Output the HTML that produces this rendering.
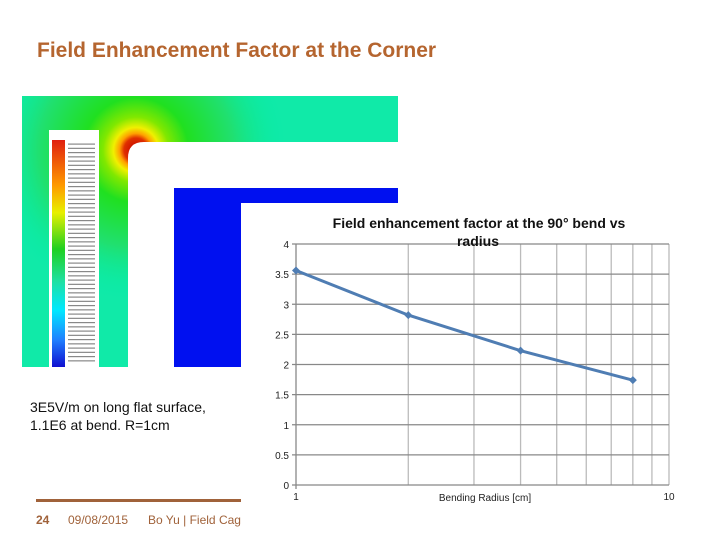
<!DOCTYPE html>
<html><head><meta charset="utf-8"><style>
html,body{margin:0;padding:0;background:#fff;}
svg{display:block;font-family:"Liberation Sans",Arial,sans-serif;}
</style></head><body>
<svg id="s" width="720" height="540" viewBox="0 0 720 540" xmlns="http://www.w3.org/2000/svg">
<defs>
<radialGradient id="hot" cx="136" cy="150" r="150" gradientUnits="userSpaceOnUse">
<stop offset="0" stop-color="#c00000"/><stop offset="0.08" stop-color="#e03000"/><stop offset="0.11" stop-color="#ffa000"/><stop offset="0.15" stop-color="#f0f000"/><stop offset="0.22" stop-color="#80e800"/><stop offset="0.35" stop-color="#20e020"/><stop offset="0.65" stop-color="#20e070"/><stop offset="1" stop-color="#00eeaa" stop-opacity="0"/>
</radialGradient>
<linearGradient id="legbar" x1="0" y1="0" x2="0" y2="1">
<stop offset="0" stop-color="#e02010"/><stop offset="0.2" stop-color="#ff9a00"/><stop offset="0.32" stop-color="#e8f000"/><stop offset="0.48" stop-color="#20d020"/><stop offset="0.62" stop-color="#20e0a0"/><stop offset="0.75" stop-color="#00e8ff"/><stop offset="0.88" stop-color="#2080ff"/><stop offset="1" stop-color="#1010d0"/>
</linearGradient>
</defs>
<text x="37" y="57" font-size="21" font-weight="bold" fill="#b5652f">Field Enhancement Factor at the Corner</text>

<g>
<rect x="22" y="96" width="376" height="271" fill="#10eaa8"/>
<rect x="22" y="96" width="376" height="271" fill="url(#hot)"/>
<path d="M128 367 V158 Q128 142 144 142 H398 V367 Z" fill="#fff"/>
<path d="M174 367 V188 H398 V203 H241 V367 Z" fill="#0010f0"/>
<rect x="49" y="130" width="50" height="237" fill="#fff"/>
<rect x="52" y="140" width="13" height="227" fill="url(#legbar)"/>
<g id="legtxt"></g>
</g>

<g id="chart"></g>

<text x="30" y="412" font-size="14" fill="#111">3E5V/m on long flat surface,</text>
<text x="30" y="430" font-size="14" fill="#111">1.1E6 at bend. R=1cm</text>
<rect x="36" y="499" width="205" height="3" fill="#a0623a"/>
<text x="36" y="524" font-size="12" font-weight="bold" fill="#a0623a">24</text>
<text x="68" y="524" font-size="12" fill="#a0623a">09/08/2015</text>
<text x="148" y="524" font-size="12" fill="#a0623a">Bo Yu | Field Cag</text>
</svg>
<script>
const radii = [1, 2, 4, 8];
const factors = [3.56, 2.82, 2.23, 1.74];
const yTicks = [0, 0.5, 1, 1.5, 2, 2.5, 3, 3.5, 4];
const xTickLabels = ["1", "10"];
const NS = "http://www.w3.org/2000/svg";
const x0 = 296, x1 = 669, yb = 485, yt = 244;
function xs(v){ return x0 + Math.log10(v) * (x1 - x0); }
function ys(v){ return yb - v / 4 * (yb - yt); }
const g = document.getElementById('chart');
function mk(t, a, p){ const e = document.createElementNS(NS, t); for (const k in a) e.setAttribute(k, a[k]); (p||g).appendChild(e); return e; }
const bg = mk('rect', {x:241, y:203, width:440, height:300, fill:'#fff'});


for (let d = 2; d <= 10; d++) {
  const l = mk('line', {x1:xs(d), x2:xs(d), y1:yt, y2:yb, stroke:'#bbb', 'stroke-width':1.3});
  
  
}
yTicks.forEach(v => {
  const l = mk('line', {x1:x0-4, x2:x1, y1:ys(v), y2:ys(v), stroke:'#888', 'stroke-width':1.3});
  
  
  const t = mk('text', {x:289, y:ys(v)+4, 'font-size':10, 'text-anchor':'end', fill:'#222'});
  t.textContent = v;
  
  
});
const ax = mk('line', {x1:x0, x2:x0, y1:yt, y2:yb+4, stroke:'#888', 'stroke-width':1.3});


xTickLabels.forEach(s => {
  const t = mk('text', {x:xs(+s), y:yb+15, 'font-size':10, 'text-anchor':'middle', fill:'#222'});
  t.textContent = s;
  
  
});
const xt = mk('text', {x:485, y:501, 'font-size':10, 'text-anchor':'middle', fill:'#222'});
xt.textContent = 'Bending Radius [cm]';


const t1 = mk('text', {x:479, y:228, 'font-size':14, 'font-weight':'bold', 'text-anchor':'middle', fill:'#111'});
t1.textContent = 'Field enhancement factor at the 90° bend vs';


const t2 = mk('text', {x:478, y:246, 'font-size':14, 'font-weight':'bold', 'text-anchor':'middle', fill:'#111'});
t2.textContent = 'radius';


const pts = radii.map((r,i) => xs(r) + ',' + ys(factors[i])).join(' ');
const pl = mk('polyline', {points:pts, fill:'none', stroke:'#4f7db3', 'stroke-width':3});


radii.forEach((r,i) => {
  const cx = xs(r), cy = ys(factors[i]);
  const m = mk('path', {d:`M${cx} ${cy-4} L${cx+4} ${cy} L${cx} ${cy+4} L${cx-4} ${cy} Z`, fill:'#4f7db3'});
  
  
});
const lg = document.getElementById('legtxt');
for (let i = 0; i < 52; i++) {
  const y = 145 + i * 4.25;
  const r = mk('rect', {x:68, y:y-1.5, width:27, height:1.2, fill:'#888'}, lg);
  
  
}
</script>
</body></html>
